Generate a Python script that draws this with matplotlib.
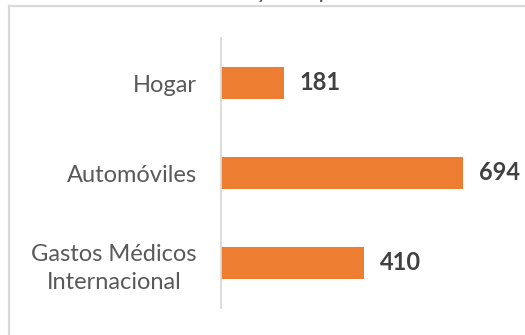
import matplotlib.pyplot as plt
from matplotlib.lines import Line2D

# datos de la gráfica
categorias = ['Gastos Médicos\nInternacional', 'Automóviles', 'Hogar']
valores = [410, 694, 181]
titulo = 'Siniestros atendidos y compañía'

W, H = 525, 335
fig = plt.figure(figsize=(W / 100, H / 100), dpi=100)
fig.patch.set_facecolor('white')

# marco del área del gráfico (se sale por la derecha y por abajo)
gris_marco = '#d9d9d9'
fig.add_artist(Line2D([9 / W, 9 / W], [0, 1 - 6 / H], color=gris_marco, lw=1.6,
                      transform=fig.transFigure))
fig.add_artist(Line2D([9 / W, 1], [1 - 6 / H, 1 - 6 / H], color=gris_marco, lw=1.6,
                      transform=fig.transFigure))

# título, casi fuera de la figura
fig.text(42 / W, 1 + 1.5 / H, titulo, fontsize=17, family=['Lato', 'DejaVu Sans'],
         color='#595959', ha='left', va='baseline')

izq, der, arriba, abajo = 220.5, 500.5, 38, 308
ax = fig.add_axes([izq / W, 1 - abajo / H, (der - izq) / W, (abajo - arriba) / H])

pos = list(range(len(categorias)))
barras = ax.barh(pos, valores, height=0.345, color='#ED7D31', edgecolor='none', zorder=2)

ax.set_xlim(0, 800)
ax.set_ylim(-0.5, len(categorias) - 0.5)
ax.set_yticks(pos)
ax.set_yticklabels(categorias, fontsize=17, family=['Lato', 'DejaVu Sans'],
                   color='#595959', ha='right', multialignment='center',
                   linespacing=1.4)
ax.tick_params(axis='y', length=0, pad=17)
ax.set_xticks([])

for lado in ['top', 'right', 'bottom']:
    ax.spines[lado].set_visible(False)
ax.spines['left'].set_color(gris_marco)
ax.spines['left'].set_linewidth(1.3)

for b, v in zip(barras, valores):
    ax.annotate(str(v), xy=(b.get_width(), b.get_y() + b.get_height() / 2),
                xytext=(11.5, 0), textcoords='offset points',
                ha='left', va='center', fontsize=17, fontweight='bold',
                family=['Lato', 'DejaVu Sans'], color='#404040')

fig.savefig('out.png', dpi=100, facecolor='white')
